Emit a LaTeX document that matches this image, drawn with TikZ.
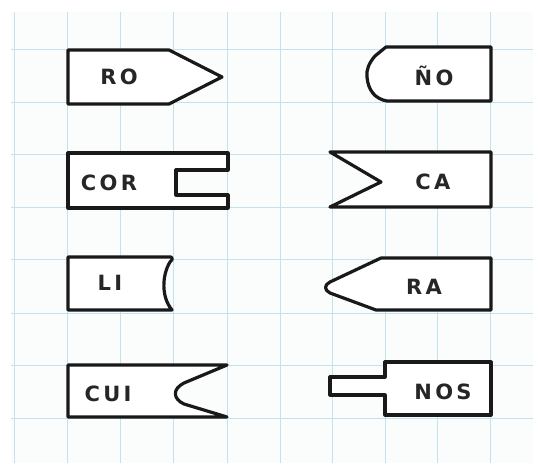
\documentclass[tikz,border=0pt]{standalone}
\usepackage{fontspec}
\setmainfont{DejaVu Sans}[LetterSpace=16.0]
\definecolor{gridblue}{RGB}{196,226,238}
\definecolor{paper}{RGB}{251,253,253}
\begin{document}
\begin{tikzpicture}[x=1pt,y=-1pt,
  gridline/.style={draw=gridblue, line width=1pt},
  piece/.style={draw=black!90, line width=3.2pt, line join=round, line cap=round, fill=white},
  syl/.style={font=\fontsize{21}{24}\selectfont\bfseries, text=black!85, inner sep=0pt}]
\useasboundingbox (0,0) rectangle (533,465);
\fill[white] (0,0) rectangle (533,465);
\fill[paper] (11,12) rectangle (533,463);
\foreach \x in {14,67,120,173,227,280,332,385,437,490}
  \draw[gridline] (\x,12) -- (\x,463);
\foreach \y in {50,103,155,208,260,313,365,418}
  \draw[gridline] (11,\y) -- (533,\y);
% left column
\draw[piece] (68,50) -- (169,50) -- (222,77) -- (169,104) -- (68,104) -- cycle;
\draw[piece] (228,170) -- (228,153) -- (68,153) -- (68,208) -- (228,208) -- (228,195) -- (176,195) -- (176,170) -- cycle;
\draw[piece] (68,257) -- (168,257) .. controls (172,256) and (174,259) .. (170,262)
   .. controls (162,275) and (161,297) .. (172,310) -- (68,310) -- cycle;
\draw[piece] (68,365) -- (227,365) -- (184,383) .. controls (172,389) and (173,399) .. (184,404) -- (227,417) -- (68,417) -- cycle;
% right column
\draw[piece] (491,47) -- (386,47) -- (375,56) .. controls (369,63) and (366,70) .. (367,77)
   .. controls (368,90) and (375,99) .. (387,101) -- (491,101) -- cycle;
\draw[piece] (330,152) -- (491,152) -- (491,207) -- (330,207) -- (381,182) -- cycle;
\draw[piece] (491,258) -- (381,258) -- (330,282) .. controls (324,285) and (324,290) .. (330,293) -- (376,310) -- (491,310) -- cycle;
\draw[piece] (385,362) -- (491,362) -- (491,415) -- (385,415) -- (385,395) -- (330,395) -- (330,377) -- (385,377) -- cycle;
% syllables
\node[syl] (ro)  at (119,77)  {RO};
\node[syl] (cor) at (109,183) {COR};
\node[syl] (li)  at (110,283) {LI};
\node[syl] (cui) at (108,394) {CUI};
\node[syl] (no)  at (434,76)  {ÑO};
\node[syl] (ca)  at (433,182) {CA};
\node[syl] (ra)  at (424,287) {RA};
\node[syl] (nos) at (443,392) {NOS};
\end{tikzpicture}
\end{document}
